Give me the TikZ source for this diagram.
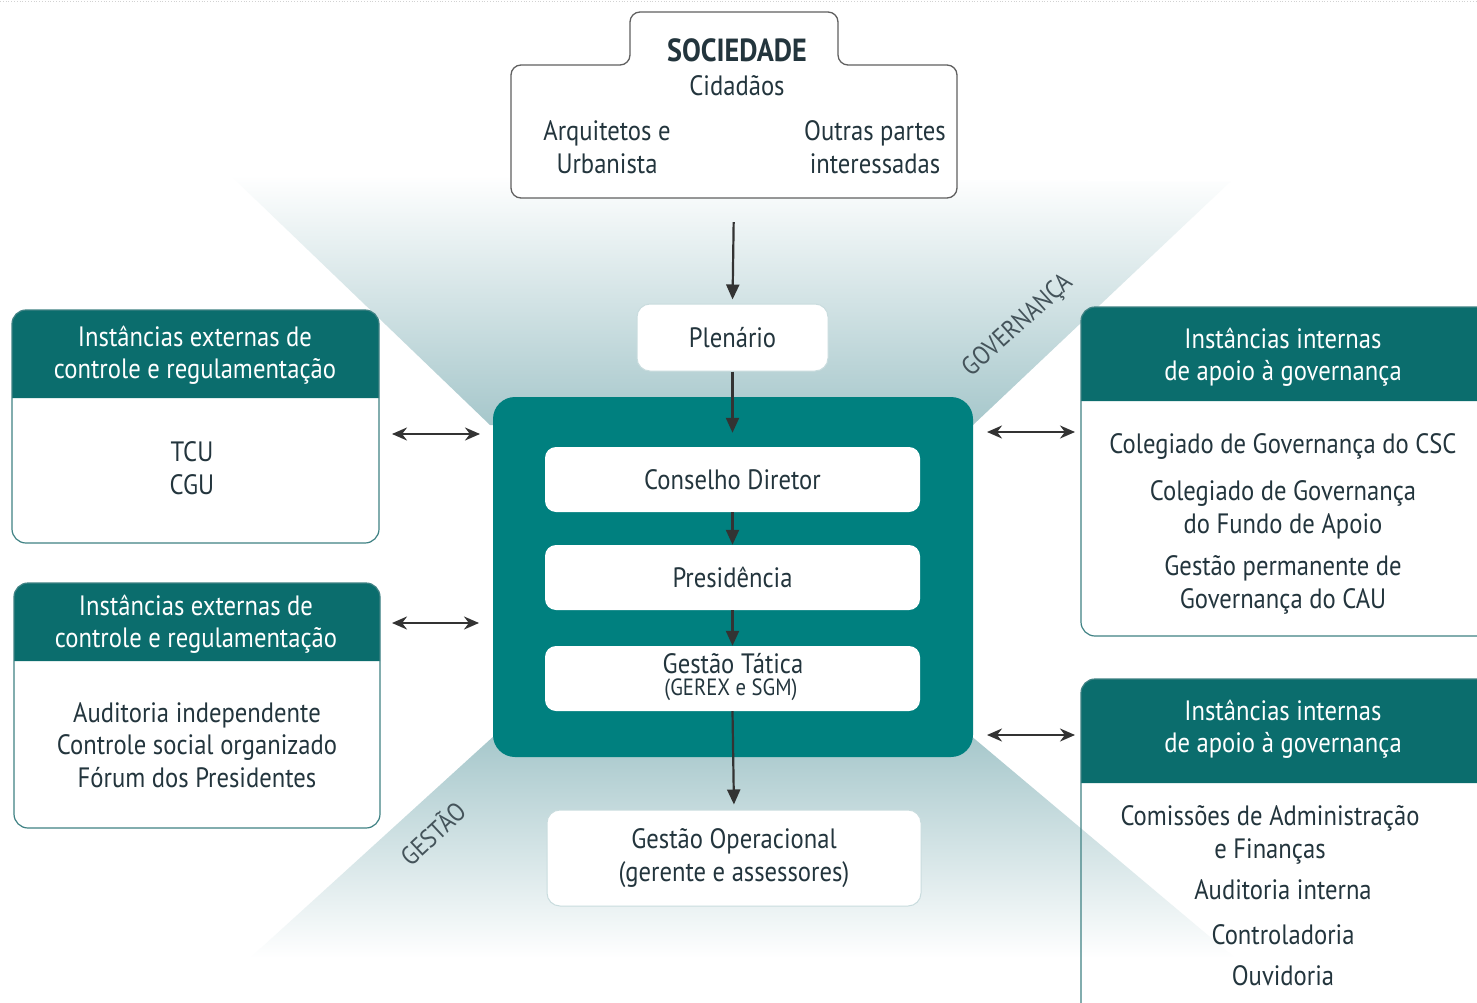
\documentclass[tikz,border=0pt]{standalone}
\usepackage{fontspec}
\setmainfont{PT Sans}[FakeStretch=0.88]
\usetikzlibrary{arrows.meta}
\definecolor{core}{HTML}{00807F}
\definecolor{hdr}{HTML}{0B6D6D}
\definecolor{ink}{HTML}{23353D}
\definecolor{bord}{HTML}{3F8284}
\definecolor{bgshade}{HTML}{A6C7CB}
\definecolor{arr}{HTML}{333333}
\definecolor{soft}{HTML}{C9DCDE}
\newcommand{\fsbody}{\fontsize{28}{32.5}\selectfont}
\newcommand{\fssmall}{\fontsize{23.5}{25}\selectfont}
\tikzset{
  txt/.style={text=ink, align=center, font=\fsbody, inner sep=0pt},
  hdrtxt/.style={text=white, align=center, font=\fsbody, inner sep=0pt},
  outerbox/.style={draw=bord, line width=1.2pt, rounded corners=14pt, inner sep=0pt},
  innerbox/.style={fill=white, rounded corners=11pt, inner sep=0pt, text=ink, font=\fsbody, align=center},
  lightbox/.style={fill=white, draw=soft, line width=1pt, rounded corners=13pt, inner sep=0pt, text=ink, font=\fsbody, align=center},
  flow/.style={draw=arr, line width=2.2pt, -{Triangle[width=13pt,length=15pt]}},
  twoway/.style={draw=arr, line width=2.2pt, {Stealth[width=13pt,length=15pt]}-{Stealth[width=13pt,length=15pt]}},
  sidelabel/.style={text=ink!85, font=\fontsize{26}{28}\selectfont, inner sep=0pt}
}
\begin{document}
\begin{tikzpicture}[x=1pt,y=-1pt]
\useasboundingbox (0,0) rectangle (1477,1003);
\fill[white] (0,0) rectangle (1477,1003);
\draw[gray!35, dotted, line width=0.8pt] (0,1.5) -- (1477,1.5);

% background bow-tie
\shade[top color=white, bottom color=bgshade] (230,175) -- (1230,182) -- (973,425) -- (490,425) -- cycle;
\shade[top color=bgshade, bottom color=white] (495,735) -- (970,735) -- (1235,958) -- (250,958) -- cycle;

% SOCIEDADE
\draw[draw=gray!75!black, line width=1.3pt, fill=white, rounded corners=10pt]
  (511,198) -- (511,65) -- (630,65) -- (630,12) -- (838,12) -- (838,65) -- (957,65) -- (957,198) -- cycle;
\node[inner sep=0pt, minimum width=446pt, minimum height=133pt] (soc) at (734,131.5) {};
\node[text=ink, font=\bfseries\fontsize{32}{34}\selectfont, inner sep=0pt] (socT) at (737,50) {SOCIEDADE};
\node[txt] (cid) at (737,86) {Cidadãos};
\node[txt] (arq) at (607,147) {Arquitetos e\\Urbanista};
\node[txt] (out) at (875,147) {Outras partes\\interessadas};

% Plenario
\node[lightbox, minimum width=191pt, minimum height=67pt] (plen) at (732.5,337.5) {Plenário};

% core
\node[fill=core, rounded corners=22pt, minimum width=480pt, minimum height=360pt, inner sep=0pt] (core) at (733,577) {};
\node[innerbox, minimum width=375pt, minimum height=65pt] (cons) at (732.5,479.5) {Conselho Diretor};
\node[innerbox, minimum width=375pt, minimum height=65pt] (pres) at (732.5,577.5) {Presidência};
\node[innerbox, minimum width=375pt, minimum height=65pt] (tat) at (732.5,678.5) {};
\node[txt] (tatA) at (733,664) {Gestão Tática};
\node[txt, font=\fssmall] (tatB) at (731,690) {(GEREX e SGM)};

% Gestao operacional
\node[lightbox, minimum width=374pt, minimum height=96pt] (oper) at (734,858) {Gestão Operacional\\(gerente e assessores)};

% side labels
\node[sidelabel, rotate=42] (gov) at (1018,326) {GOVERNANÇA};
\node[sidelabel, rotate=43] (ges) at (432,833) {GESTÃO};

% left box 1
\fill[hdr] (12,398) [rounded corners=14pt] -- (12,310) -- (379,310) [sharp corners] -- (379,398) -- cycle;
\node[outerbox, minimum width=367pt, minimum height=233pt] (ext1) at (195.5,426.5) {};
\node[hdrtxt] (ext1h) at (195,355) {Instâncias externas de\\controle e regulamentação};
\node[txt] (ext1b) at (192,468) {TCU\\CGU};

% left box 2
\fill[hdr] (14,661) [rounded corners=14pt] -- (14,583) -- (380,583) [sharp corners] -- (380,661) -- cycle;
\node[outerbox, minimum width=366pt, minimum height=245pt] (ext2) at (197,705.5) {};
\node[hdrtxt] (ext2h) at (196,624) {Instâncias externas de\\controle e regulamentação};
\node[txt] (ext2b) at (197,745) {Auditoria independente\\Controle social organizado\\Fórum dos Presidentes};

% right box 3
\fill[hdr] (1081,401) [rounded corners=14pt] -- (1081,307) -- (1495,307) [sharp corners] -- (1495,401) -- cycle;
\node[outerbox, minimum width=414pt, minimum height=329pt] (int1) at (1288,471.5) {};
\node[hdrtxt] (int1h) at (1283,357) {Instâncias internas\\de apoio à governança};
\node[txt] (int1a) at (1283,446) {Colegiado de Governança do CSC};
\node[txt] (int1b) at (1283,510) {Colegiado de Governança\\do Fundo de Apoio};
\node[txt] (int1c) at (1283,585) {Gestão permanente de\\Governança do CAU};

% right box 4
\fill[hdr] (1081,783) [rounded corners=14pt] -- (1081,679) -- (1495,679) [sharp corners] -- (1495,783) -- cycle;
\node[outerbox, minimum width=414pt, minimum height=340pt] (int2) at (1288,849) {};
\node[hdrtxt] (int2h) at (1283,729) {Instâncias internas\\de apoio à governança};
\node[txt] (int2a) at (1270,835) {Comissões de Administração\\e Finanças};
\node[txt] (int2b) at (1283,890) {Auditoria interna};
\node[txt] (int2c) at (1283,935) {Controladoria};
\node[txt] (int2d) at (1283,976) {Ouvidoria};

% vertical flow
\draw[flow, shorten <=24pt, shorten >=4pt] (soc.south) -- (plen.north);
\draw[flow] (plen.south) -- ([yshift=14pt]cons.north);
\draw[flow] (cons.south) -- (pres.north);
\draw[flow] (pres.south) -- (tat.north);
\draw[flow, shorten >=5pt] (tat.south) -- (oper.north);

% two-way arrows
\coordinate (e1a) at (392,434); \coordinate (e1b) at (480,434);
\coordinate (e2a) at (392,623); \coordinate (e2b) at (479,623);
\coordinate (i1a) at (987,432); \coordinate (i1b) at (1075,432);
\coordinate (i2a) at (987,735); \coordinate (i2b) at (1075,735);
\draw[twoway] (e1a) -- (e1b);
\draw[twoway] (e2a) -- (e2b);
\draw[twoway] (i1a) -- (i1b);
\draw[twoway] (i2a) -- (i2b);
\end{tikzpicture}
\end{document}
